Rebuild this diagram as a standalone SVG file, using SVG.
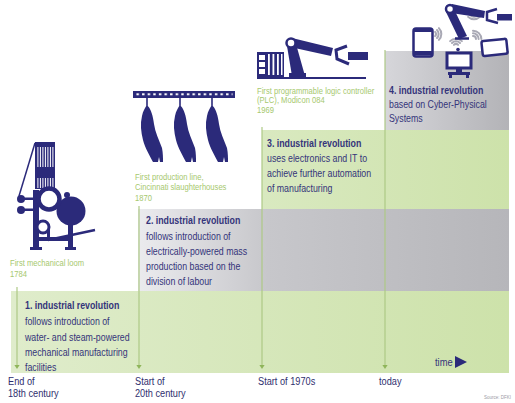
<svg xmlns="http://www.w3.org/2000/svg" xmlns:xlink="http://www.w3.org/1999/xlink" width="515" height="403" viewBox="0 0 515 403">
  <style>
    .txt { font-family: "Liberation Sans", Arial, sans-serif; font-size: 11px; fill: #34347a; }
    .b { font-weight: bold; }
    .cap { font-family: "Liberation Sans", Arial, sans-serif; font-size: 8.2px; fill: #a6c86e; }
    .axis { font-family: "Liberation Sans", Arial, sans-serif; font-size: 11.5px; fill: #2f2f6e; }
    .navy { fill: #2b2a7a; }
    .vline { stroke: #adc985; stroke-width: 1.2; }
    .tick { fill: #8fb55a; }
    .wifi { fill: none; stroke: #a9a9b5; stroke-width: 2; stroke-linecap: round; }
    .outline { fill: #ffffff; stroke: #2b2a7a; }
  </style>
  <defs>
    <linearGradient id="green1" gradientUnits="userSpaceOnUse" x1="11" y1="0" x2="509" y2="0">
      <stop offset="0" stop-color="#dfeccb"/>
      <stop offset="1" stop-color="#cde2aa"/>
    </linearGradient>
    <linearGradient id="green3" gradientUnits="userSpaceOnUse" x1="262" y1="0" x2="509" y2="0">
      <stop offset="0" stop-color="#d9e9c0"/>
      <stop offset="1" stop-color="#cde2aa"/>
    </linearGradient>
    <linearGradient id="gray2" gradientUnits="userSpaceOnUse" x1="138" y1="0" x2="509" y2="0">
      <stop offset="0" stop-color="#ebebee"/>
      <stop offset="0.35" stop-color="#c7c7cb"/>
      <stop offset="1" stop-color="#b6b6ba"/>
    </linearGradient>
    <linearGradient id="gray4" gradientUnits="userSpaceOnUse" x1="385" y1="0" x2="509" y2="0">
      <stop offset="0" stop-color="#d6d6da"/>
      <stop offset="1" stop-color="#b3b3b7"/>
    </linearGradient>
    <pattern id="chain" x="135.5" y="93" width="5.6" height="3" patternUnits="userSpaceOnUse">
      <rect x="1" y="0" width="2.4" height="2.4" fill="#ffffff"/>
    </pattern>
    <!-- hanging carcass, origin at the hook -->
    <path id="carcass" d="M-0.8,0 L0.8,0 L0.8,8 C4,11 6,18 7,26 C8,34 12,42 15,50 C16,55 16,60 16,64 L13,64 L12,59 L11,64 L6,64 C3,58 -2,50 -4,42 C-6,34 -7,26 -5,18 C-4,13 -2,10 -0.8,8 Z"/>
    <path id="wifi-arcs" class="wifi" d="M-2.1,-2.1 A3,3 0 0 1 2.1,-2.1 M-4,-4 A5.7,5.7 0 0 1 4,-4 M-5.9,-5.9 A8.4,8.4 0 0 1 5.9,-5.9"/>
    <path id="tick" d="M-2.6,-2 L2.6,-2 L0,2 Z"/>
  </defs>

  <!-- era bands, stepped from bottom-left to top-right -->
  <g id="bands">
    <rect x="11" y="291" width="498" height="82" fill="url(#green1)"/>
    <rect x="138" y="209" width="371" height="82" fill="url(#gray2)"/>
    <rect x="262" y="130" width="247" height="79" fill="url(#green3)"/>
    <rect x="385" y="51" width="124" height="79" fill="url(#gray4)"/>
  </g>

  <!-- timeline markers -->
  <g id="connectors">
    <line class="vline" x1="17" y1="287" x2="17" y2="365"/>
    <line class="vline" x1="139" y1="206" x2="139" y2="365"/>
    <line class="vline" x1="262" y1="127" x2="262" y2="365"/>
    <line class="vline" x1="385" y1="50" x2="385" y2="365"/>
    <use href="#tick" class="tick" x="17" y="367"/>
    <use href="#tick" class="tick" x="139" y="367"/>
    <use href="#tick" class="tick" x="262" y="367"/>
    <use href="#tick" class="tick" x="385" y="367"/>
  </g>

  <!-- 1st revolution -->
  <g id="stage-1">
    <g id="loom" class="navy">
      <rect x="35" y="142" width="20" height="47"/>
      <g fill="#ffffff">
        <rect x="37.4" y="147" width="1" height="20"/>
        <rect x="39.9" y="147" width="1" height="20"/>
        <rect x="42.4" y="147" width="1" height="20"/>
        <rect x="44.9" y="147" width="1" height="20"/>
        <rect x="47.4" y="147" width="1" height="20"/>
        <rect x="49.9" y="147" width="1" height="20"/>
        <rect x="52.4" y="147" width="1" height="20"/>
        <rect x="37.4" y="178" width="1" height="10"/>
        <rect x="39.9" y="178" width="1" height="10"/>
        <rect x="42.4" y="178" width="1" height="10"/>
        <rect x="44.9" y="178" width="1" height="10"/>
        <rect x="47.4" y="178" width="1" height="10"/>
        <rect x="49.9" y="178" width="1" height="10"/>
        <rect x="52.4" y="178" width="1" height="10"/>
      </g>
      <line x1="35" y1="143" x2="19" y2="196" stroke="#2b2a7a" stroke-width="1.5"/>
      <circle cx="21" cy="199" r="4"/>
      <circle cx="21" cy="210" r="4"/>
      <rect x="21" y="197.5" width="18" height="2.5"/>
      <rect x="21" y="208.5" width="14" height="2.5"/>
      <rect x="33" y="190" width="6" height="60"/>
      <circle cx="71" cy="211" r="14.5"/>
      <circle cx="67" cy="195" r="3"/>
      <circle cx="49" cy="199" r="10.5" class="outline" stroke-width="4.5"/>
      <circle cx="43" cy="227" r="6" class="outline" stroke-width="3"/>
      <rect x="68" y="218" width="5" height="32"/>
      <rect x="38" y="237" width="34" height="4"/>
      <rect x="47" y="230" width="3" height="9"/>
      <line x1="48" y1="240" x2="95" y2="230" stroke="#2b2a7a" stroke-width="2.5"/>
      <rect x="30" y="247" width="12" height="3"/>
      <rect x="65" y="247" width="11" height="3"/>
    </g>
    <text class="cap" transform="translate(10,0) scale(0.93,1)"><tspan x="0" y="266">First mechanical loom</tspan><tspan x="0" y="277">1784</tspan></text>
    <text class="txt" transform="translate(25,0) scale(0.8,1)"><tspan x="0" y="309" class="b">1. industrial revolution</tspan><tspan x="0" y="325">follows introduction of</tspan><tspan x="0" y="341">water- and steam-powered</tspan><tspan x="0" y="356">mechanical manufacturing</tspan><tspan x="0" y="371">facilities</tspan></text>
  </g>

  <!-- 2nd revolution -->
  <g id="stage-2">
    <g id="production-line" class="navy">
      <rect x="133" y="91" width="102" height="7"/>
      <rect x="135.5" y="93.3" width="97" height="2.4" fill="url(#chain)"/>
      <use href="#carcass" x="147" y="98"/>
      <use href="#carcass" x="180" y="98"/>
      <use href="#carcass" x="212" y="98"/>
    </g>
    <text class="cap" transform="translate(135,0) scale(0.93,1)"><tspan x="0" y="180">First production line,</tspan><tspan x="0" y="190.5">Cincinnati slaughterhouses</tspan><tspan x="0" y="201">1870</tspan></text>
    <text class="txt" transform="translate(146,0) scale(0.8,1)"><tspan x="0" y="224" class="b">2. industrial revolution</tspan><tspan x="0" y="240">follows introduction of</tspan><tspan x="0" y="255">electrically-powered mass</tspan><tspan x="0" y="270">production based on the</tspan><tspan x="0" y="285">division of labour</tspan></text>
  </g>

  <!-- 3rd revolution -->
  <g id="stage-3">
    <g id="plc-robot" class="navy">
      <rect x="257" y="52" width="27" height="25"/>
      <g fill="#ffffff">
        <rect x="259" y="55" width="6" height="5"/>
        <rect x="259" y="62" width="6" height="5"/>
        <rect x="259" y="69" width="6" height="5"/>
        <rect x="268" y="54" width="1.8" height="21"/>
        <rect x="272.5" y="54" width="1.8" height="21"/>
        <rect x="277" y="54" width="1.8" height="21"/>
        <rect x="281" y="54" width="1.5" height="21"/>
      </g>
      <line x1="257" y1="78" x2="366" y2="78" stroke="#2b2a7a" stroke-width="2"/>
      <rect x="289" y="73" width="17" height="5"/>
      <polygon points="292,76 305,76 296,44 287,46"/>
      <polygon points="292,38 333,48 331,56 290,47"/>
      <circle cx="291" cy="43" r="4.5" class="outline" stroke-width="2.5"/>
      <path d="M347,46 L336,50 L337,59 L349,64" fill="none" stroke="#2b2a7a" stroke-width="3"/>
      <rect x="348" y="52" width="20" height="8"/>
    </g>
    <text class="cap" transform="translate(257,0) scale(0.93,1)"><tspan x="0" y="94">First programmable logic controller</tspan><tspan x="0" y="103.5">(PLC), Modicon 084</tspan><tspan x="0" y="113">1969</tspan></text>
    <text class="txt" transform="translate(267,0) scale(0.8,1)"><tspan x="0" y="147" class="b">3. industrial revolution</tspan><tspan x="0" y="162">uses electronics and IT to</tspan><tspan x="0" y="177">achieve further automation</tspan><tspan x="0" y="192">of manufacturing</tspan></text>
  </g>

  <!-- 4th revolution -->
  <g id="stage-4">
    <g id="cps-icons">
      <use href="#wifi-arcs" transform="translate(474,11) rotate(180)"/>
      <use href="#wifi-arcs" transform="translate(433,34) rotate(90)"/>
      <use href="#wifi-arcs" transform="translate(473,39) rotate(45)"/>
      <use href="#wifi-arcs" transform="translate(456,47)"/>
      <g class="navy">
        <polygon points="446,12 453,7 467,36 459,39"/>
        <polygon points="452,4 485,11 484,18 451,13"/>
        <line x1="455" y1="38.5" x2="469" y2="38.5" stroke="#2b2a7a" stroke-width="2.5"/>
        <circle cx="450" cy="9" r="4" class="outline" stroke-width="2.5"/>
        <path d="M497,9 L487,12 L487,20 L498,23" fill="none" stroke="#2b2a7a" stroke-width="2.5"/>
        <rect x="497" y="14" width="15" height="6.5"/>
      </g>
      <rect x="413.5" y="28.5" width="19" height="28" rx="2.5" class="outline" stroke-width="2.5"/>
      <rect x="414" y="51" width="18" height="4.5" class="navy"/>
      <rect x="414" y="29" width="18" height="3" class="navy"/>
      <rect x="482" y="40" width="25" height="15" rx="2" class="outline" stroke-width="2.5" transform="rotate(-6 494 47)"/>
      <circle cx="458" cy="49.5" r="1.8" class="navy"/>
      <rect x="447" y="53" width="24" height="15" class="outline" stroke-width="3"/>
      <rect x="456" y="68" width="6" height="4" class="navy"/>
      <rect x="448" y="72" width="22" height="3" class="navy"/>
      <rect x="449" y="75" width="3" height="3" class="navy"/>
      <rect x="466" y="75" width="3" height="3" class="navy"/>
    </g>
    <text class="txt" transform="translate(389,0) scale(0.8,1)"><tspan x="0" y="94" class="b">4. industrial revolution</tspan><tspan x="0" y="108">based on Cyber-Physical</tspan><tspan x="0" y="122">Systems</tspan></text>
  </g>

  <!-- time axis -->
  <g id="time-axis">
    <text class="txt" font-size="9.5" transform="translate(435,0) scale(0.85,1)" x="0" y="366">time</text>
    <polygon points="455,356 455,368 467,362" class="navy"/>
    <text class="axis" transform="translate(8,0) scale(0.8,1)"><tspan x="0" y="385">End of</tspan><tspan x="0" y="397">18th century</tspan></text>
    <text class="axis" transform="translate(135,0) scale(0.8,1)"><tspan x="0" y="385">Start of</tspan><tspan x="0" y="397">20th century</tspan></text>
    <text class="axis" transform="translate(258,0) scale(0.8,1)" x="0" y="385">Start of 1970s</text>
    <text class="axis" transform="translate(379,0) scale(0.8,1)" x="0" y="385">today</text>
    <text font-family="Liberation Sans, Arial, sans-serif" font-size="4.5" fill="#9a9aa4" x="484" y="399">Source: DFKI</text>
  </g>
</svg>
